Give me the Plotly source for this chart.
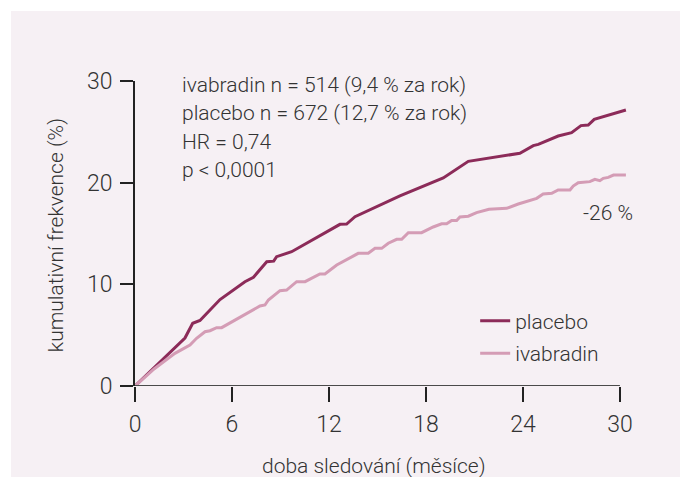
import plotly.graph_objects as go

# ---- data ----
placebo_t = [0, 3.09, 3.57, 4.02, 5.26, 5.88, 6.80, 7.33, 8.15, 8.58, 8.76, 9.69, 10.41,
             12.06, 12.68, 13.09, 13.61, 16.39, 19.07, 20.62, 22.58, 23.81, 24.64, 24.95,
             26.18, 27.01, 27.59, 28.04, 28.41, 30.37]
placebo_v = [0, 4.72, 6.17, 6.45, 8.50, 9.20, 10.26, 10.70, 12.23, 12.28, 12.72, 13.21, 13.87,
             15.41, 15.90, 15.93, 16.65, 18.69, 20.47, 22.10, 22.62, 22.89, 23.64, 23.77,
             24.59, 24.92, 25.61, 25.67, 26.23, 27.15]

ivabradin_t = [0, 1.2, 2.47, 3.40, 3.81, 4.33, 4.64, 5.05, 5.36, 7.73, 8.04, 8.25, 8.97, 9.38,
               10.0, 10.52, 11.44, 11.75, 12.48, 13.09, 13.81, 14.43, 14.85, 15.26, 15.67,
               16.19, 16.50, 16.91, 17.73, 18.45, 18.97, 19.28, 19.59, 19.90, 20.10, 20.62,
               21.13, 21.90, 22.99, 23.71, 24.85, 25.25, 25.78, 26.18, 26.91, 27.11, 27.42,
               28.14, 28.45, 28.76, 28.97, 29.28, 29.60, 30.37]
ivabradin_v = [0, 1.7, 3.21, 4.03, 4.69, 5.34, 5.44, 5.74, 5.74, 7.87, 7.97, 8.46, 9.38, 9.44,
               10.26, 10.26, 11.02, 11.02, 11.90, 12.45, 13.05, 13.05, 13.54, 13.54, 14.04,
               14.43, 14.43, 15.08, 15.08, 15.64, 15.95, 15.95, 16.28, 16.28, 16.62, 16.70,
               17.05, 17.38, 17.48, 17.90, 18.46, 18.88, 18.95, 19.28, 19.28, 19.67, 20.0,
               20.10, 20.33, 20.19, 20.43, 20.52, 20.75, 20.75]

x_ticks = [0, 6, 12, 18, 24, 30]
y_ticks = [0, 10, 20, 30]
x_title = "doba sledování (měsíce)"
y_title = "kumulativní frekvence (%)"
stats_lines = ["ivabradin n = 514 (9,4 % za rok)",
               "placebo n = 672 (12,7 % za rok)",
               "HR = 0,74",
               "p < 0,0001"]
reduction_label = "-26 %"

# ---- styles ----
FONT = "Roboto"
TXT = "#333333"
C_PLACEBO = "#8C2B59"
C_IVA = "#D49CB5"
PANEL = "#F6F0F4"
FS = 21

fig = go.Figure()
fig.add_trace(go.Scatter(x=placebo_t, y=placebo_v, mode="lines", name="placebo",
                         legendgroup="a", line=dict(color=C_PLACEBO, width=3)))
fig.add_trace(go.Scatter(x=ivabradin_t, y=ivabradin_v, mode="lines", name="ivabradin",
                         legendgroup="b", line=dict(color=C_IVA, width=3)))

# background panel
fig.add_shape(type="rect", xref="paper", yref="paper", x0=-0.2515, x1=1.3, y0=-0.5, y1=1.2295,
              fillcolor=PANEL, line=dict(width=0), layer="below")
# x axis baseline (0..30)
fig.add_shape(type="line", xref="x", yref="y", x0=x_ticks[0], x1=x_ticks[-1], y0=0, y1=0,
              line=dict(color="#4a4a4a", width=2.2), layer="above")

stat_y = [29.6, 26.85, 24.0, 21.25]
for txt, yy in zip(stats_lines, stat_y):
    fig.add_annotation(x=2.78, y=yy, xref="x", yref="y", text=txt, showarrow=False,
                       xanchor="left", yanchor="middle",
                       font=dict(family=FONT, size=FS, color=TXT, weight=300))
fig.add_annotation(x=29.25, y=17.0, xref="x", yref="y", text=reduction_label, showarrow=False,
                   xanchor="center", yanchor="middle",
                   font=dict(family=FONT, size=FS, color=TXT, weight=300))
# axis titles
fig.add_annotation(x=0.4847, y=-0.262, xref="paper", yref="paper", text=x_title,
                   showarrow=False, xanchor="center", yanchor="middle",
                   font=dict(family=FONT, size=FS, color=TXT, weight=300))
fig.add_annotation(x=-0.160, y=0.495, xref="paper", yref="paper", text=y_title,
                   showarrow=False, xanchor="center", yanchor="middle", textangle=-90,
                   font=dict(family=FONT, size=FS, color=TXT, weight=300))

fig.update_layout(
    width=680, height=477,
    margin=dict(l=135, r=52, t=81, b=91),
    paper_bgcolor="white",
    plot_bgcolor="rgba(0,0,0,0)",
    font=dict(family=FONT, color=TXT, weight=300),
    showlegend=True,
    legend=dict(x=0.69, y=0.16, xanchor="left", yanchor="middle",
                bgcolor="rgba(0,0,0,0)", tracegroupgap=2,
                font=dict(family=FONT, size=FS, color=TXT, weight=300)),
    xaxis=dict(range=[0, 30.5], tickvals=x_ticks, ticktext=[str(v) for v in x_ticks],
               showgrid=False, zeroline=False, showline=False, automargin=False,
               ticks="outside", ticklen=15, tickwidth=2, tickcolor="#222222",
               ticklabelstandoff=2,
               tickfont=dict(family=FONT, size=23, color=TXT, weight=300)),
    yaxis=dict(range=[0, 30], tickvals=y_ticks, showgrid=False, zeroline=False,
               showline=True, linecolor="#222222", linewidth=1.8, automargin=False,
               ticks="outside", ticklen=13, tickwidth=1.8, tickcolor="#222222",
               ticklabelstandoff=3,
               tickfont=dict(family=FONT, size=23, color=TXT, weight=300)),
)

fig.write_html("out.html", config={"displayModeBar": False},
               post_script="document.body.style.margin='0';")
